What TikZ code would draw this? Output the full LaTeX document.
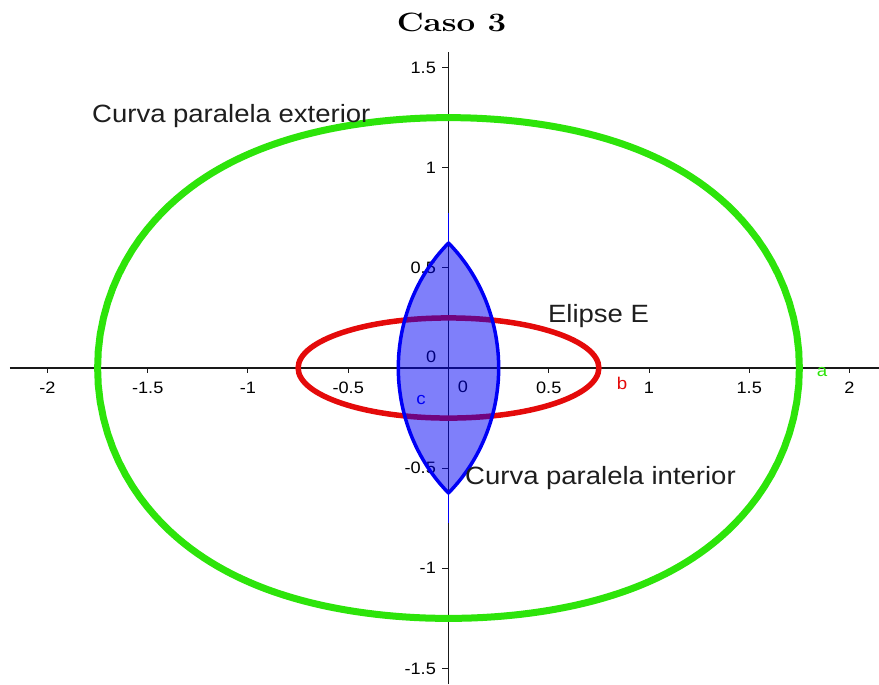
\documentclass[tikz,border=0pt]{standalone}
\usepackage{fontspec}
\usepackage{graphicx}
\newfontfamily\arialf{Liberation Sans}
\definecolor{ggreen}{RGB}{45,228,10}
\definecolor{gred}{RGB}{228,10,10}
\definecolor{gblue}{RGB}{0,0,245}
\definecolor{gtext}{RGB}{30,30,30}
\newcommand\mysq{sqrt(0.0625*cos(\t)*cos(\t)+0.5625*sin(\t)*sin(\t))}
\newcommand\biglabtxt[1]{\scalebox{1.1}[1]{\arialf\fontsize{25}{30}\selectfont #1}}
\newcommand\tkl[1]{\scalebox{1.1}[1]{\arialf\fontsize{16.5}{20}\selectfont #1}}
\newcommand\sml[1]{\scalebox{1.1}[1]{\arialf\fontsize{17}{20}\selectfont #1}}
\begin{document}
\begin{tikzpicture}[x=200.5pt,y=200.3pt,
  axisline/.style={line width=1.3pt,black!90},
  tick/.style={line width=1pt,black!90},
  ticklab/.style={inner sep=0pt,text=black},
  biglab/.style={inner sep=0pt,anchor=base west,text=gtext},
  outercurve/.style={ggreen,line width=7pt,line join=round},
  ellipseE/.style={gred,line width=5.5pt},
  lensfill/.style={fill=gblue,fill opacity=0.5},
  lensline/.style={gblue,line width=3.5pt,line join=round}]
\useasboundingbox (-2.2369,-1.5776) rectangle (2.1471,1.8373);
% axes
\coordinate (xl) at (-2.187,0);
\coordinate (xr) at (2.1471,0);
\coordinate (yt) at (0,1.578);
\coordinate (yb) at (0,-1.5776);
\draw[axisline] (xl) -- (xr);
\draw[axisline] (yb) -- (yt);
\foreach \v/\l in {-2/-2,-1.5/-1.5,-1/-1,-0.5/-0.5,0.5/0.5,1/1,1.5/1.5,2/2}{
  \draw[tick] (\v,0) -- ++(0,-5pt);
  \node[ticklab] (xt\l) at (\v,-0.0999) {\tkl{\l}};
}
\foreach \v/\l in {-1.5/-1.5,-1/-1,-0.5/-0.5,0.5/0.5,1/1,1.5/1.5}{
  \draw[tick] (0,\v) -- ++(-6pt,0);
  \node[ticklab,anchor=east] (yt\l) at (-0.062,\v) {\tkl{\l}};
}
\node[ticklab] (zeroA) at (-0.087,0.055) {\tkl{0}};
\node[ticklab] (zeroB) at (0.072,-0.095) {\tkl{0}};
% curves
\draw[outercurve] plot[domain=0:360,samples=241,variable=\t]
  ({cos(\t)*(0.75+0.25/\mysq)},{sin(\t)*(0.25+0.75/\mysq)}) -- cycle;
\draw[ellipseE] (0,0) ellipse [x radius=0.75,y radius=0.25];
\fill[lensfill] plot[domain=-18.168:18.168,samples=61,variable=\t]
  ({cos(\t)*(0.75-0.25/\mysq)},{sin(\t)*(0.25-0.75/\mysq)})
  -- plot[domain=161.832:198.168,samples=61,variable=\t]
  ({cos(\t)*(0.75-0.25/\mysq)},{sin(\t)*(0.25-0.75/\mysq)}) -- cycle;
\draw[lensline] plot[domain=-18.168:18.168,samples=61,variable=\t]
  ({cos(\t)*(0.75-0.25/\mysq)},{sin(\t)*(0.25-0.75/\mysq)})
  -- plot[domain=161.832:198.168,samples=61,variable=\t]
  ({cos(\t)*(0.75-0.25/\mysq)},{sin(\t)*(0.25-0.75/\mysq)}) -- cycle;
\coordinate (lt1) at (0,0.6236);
\coordinate (lt2) at (0,0.772);
\coordinate (lb1) at (0,-0.6236);
\coordinate (lb2) at (0,-0.772);
\draw[gblue,line width=1.6pt] (lt1) -- (lt2);
\draw[gblue,line width=1.6pt] (lb1) -- (lb2);
% small labels
\node[inner sep=0pt,text=ggreen] (la) at (1.863,-0.02) {\sml{a}};
\node[inner sep=0pt,text=gred] (lb) at (0.866,-0.075) {\sml{b}};
\node[inner sep=0pt,text=gblue] (lc) at (-0.137,-0.16) {\sml{c}};
% big labels
\node[biglab] (ext) at (-1.778,1.2256) {\biglabtxt{Curva paralela exterior}};
\node[biglab] (elE) at (0.496,0.2297) {\biglabtxt{Elipse E}};
\node[biglab] (int) at (0.0823,-0.584) {\biglabtxt{Curva paralela interior}};
% title
\node[inner sep=0pt,anchor=base] (title) at (0.015,1.6825)
  {\scalebox{1.25}[1]{\fontsize{26.5}{30}\selectfont\bfseries Caso 3}};
\end{tikzpicture}
\end{document}
